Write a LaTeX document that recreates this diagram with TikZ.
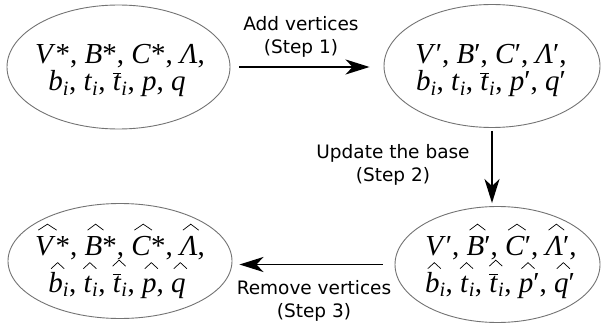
\RequirePackage{fix-cm}
\documentclass[tikz,border=0pt]{standalone}
\usepackage{fontspec}
\usetikzlibrary{shapes.geometric,arrows.meta}
\newfontfamily\mathtextfont{Liberation Serif}
\newfontfamily\labelfont{DejaVu Sans}
\newcommand{\vi}[1]{\textit{#1}}
\newcommand{\sbi}{\textsubscript{\textit{i}}}
\newlength\hatw
\newlength\hatH
\newcommand{\hatof}[2][24.5pt]{\settowidth{\hatw}{#2}\setlength{\hatH}{0.9\hatw}\ifdim\hatH<13pt\setlength{\hatH}{13pt}\fi
  \makebox[0pt][l]{\makebox[\hatw][c]{\hspace{4pt}\raisebox{#1}[0pt][0pt]{\tikz[x=1pt,y=1pt]\draw[line width=0.7pt,line join=miter] (0,0) -- (0.5\hatH,6) -- (\hatH,0);}}}#2}
\newcommand{\barof}[1]{$\overline{\mbox{#1}}$}
\tikzset{
  ell/.style={ellipse, draw=black!55, line width=0.9pt, inner sep=0pt},
  mtext/.style={anchor=base, inner sep=0pt, font=\mathtextfont\fontsize{29}{27}\selectfont},
  lbl/.style={align=center, inner sep=0pt, font=\labelfont\fontsize{18.5}{23}\selectfont},
  arr/.style={line width=1.9pt, -{Stealth[length=24pt,width=15pt,inset=7pt]}}
}
\begin{document}
\begin{tikzpicture}[x=1pt,y=-1pt]
\useasboundingbox (0,0) rectangle (602,326);
% ellipses
\node[ell, minimum width=223pt, minimum height=124pt] (e1) at (118.5,67) {};
\node[ell, minimum width=216pt, minimum height=123pt] (e2) at (492,66) {};
\node[ell, minimum width=224pt, minimum height=115pt] (e3) at (120,261) {};
\node[ell, minimum width=205pt, minimum height=116pt] (e4) at (497.5,264.5) {};
% texts
\node[mtext] (t1a) at (120,64) {\vi{V}*, \vi{B}*, \vi{C}*, \vi{Λ},};
\node[mtext] (t1b) at (117,91) {\vi{b}\sbi, \vi{t}\sbi, \barof{\vi{t}}\sbi, \vi{p}, \vi{q}};
\node[mtext] (t2a) at (491,64) {\vi{V}′, \vi{B}′, \vi{C}′, \vi{Λ}′,};
\node[mtext] (t2b) at (491,91) {\vi{b}\sbi, \vi{t}\sbi, \barof{\vi{t}}\sbi, \vi{p}′, \vi{q}′};
\node[mtext] (t3a) at (120,255) {\hatof{\vi{V}}*, \hatof{\vi{B}}*, \hatof{\vi{C}}*, \hatof{\vi{Λ}},};
\node[mtext] (t3b) at (117,292) {\hatof[23pt]{\vi{b}}\sbi, \hatof[23pt]{\vi{t}}\sbi, \hatof[25.5pt]{\barof{\vi{t}}}\sbi, \hatof[23pt]{\vi{p}}, \hatof[23pt]{\vi{q}}};
\node[mtext] (t4a) at (501,255) {\vi{V}′, \hatof{\vi{B}}′, \hatof{\vi{C}}′, \hatof{\vi{Λ}}′,};
\node[mtext] (t4b) at (500,292) {\hatof[23pt]{\vi{b}}\sbi, \hatof[23pt]{\vi{t}}\sbi, \hatof[25.5pt]{\barof{\vi{t}}}\sbi, \hatof[23pt]{\vi{p}}′, \hatof[23pt]{\vi{q}}′};
% labels
\node[lbl] (l1) at (301,37) {Add vertices\\(Step 1)};
\node[lbl] (l2) at (393,165) {Update the base\\(Step 2)};
\node[lbl] (l3) at (314,301) {Remove vertices\\(Step 3)};
% arrows
\draw[arr, shorten <=9pt, shorten >=14pt] (e1.east) -- (e1.east -| e2.west);
\draw[arr, shorten <=3pt, shorten >=3pt] (e2.south) -- (e2.south |- e4.north);
\draw[arr, shorten <=12pt, shorten >=7pt] (e4.west) -- (e4.west -| e3.east);
\end{tikzpicture}
\end{document}
